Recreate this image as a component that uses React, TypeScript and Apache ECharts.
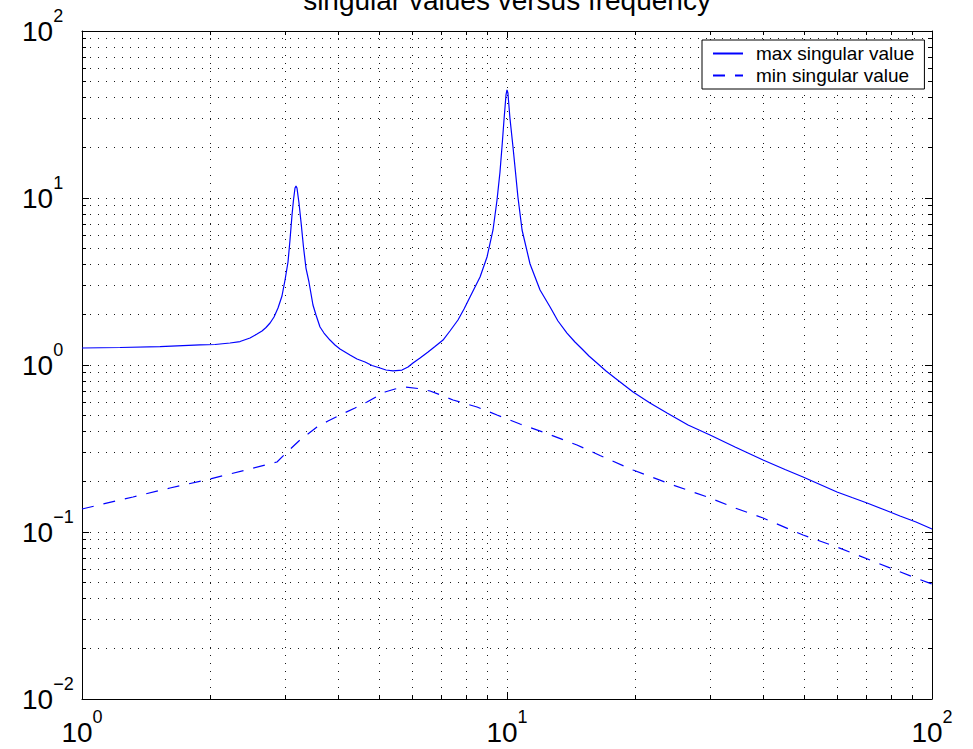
import React, { useEffect, useRef } from "react";
import * as echarts from "echarts";

const TITLE = "singular values versus frequency";
const SERIES_NAMES = ["max singular value", "min singular value"];

const maxFreq = [
  1.0, 1.229, 1.526, 1.895, 2.056, 2.23, 2.354, 2.485, 2.581, 2.652, 2.71, 2.77, 2.83, 2.892, 2.955,
  3.004, 3.053, 3.086, 3.12, 3.145, 3.171, 3.188, 3.205, 3.24, 3.276, 3.32, 3.365, 3.42, 3.495, 3.553,
  3.631, 3.71, 3.832, 3.938, 4.046, 4.271, 4.437, 4.634, 4.813, 5.026, 5.191, 5.393, 5.661, 5.849, 6.009,
  6.243, 6.52, 6.769, 7.071, 7.341, 7.668, 7.923, 8.184, 8.642, 8.974, 9.27, 9.474, 9.627, 9.732, 9.838,
  9.946, 10.0, 10.05, 10.16, 10.33, 10.47, 10.61, 10.85, 11.33, 11.96, 12.63, 13.18, 13.84, 14.45, 15.02,
  15.59, 16.28, 17.1, 17.95, 18.85, 19.8, 21.7, 23.8, 26.67, 30.04, 34.4, 40.04, 45.1, 49.72, 54.51,
  59.77, 64.83, 70.33, 77.51, 84.08, 91.7, 100,
];
const maxVal = [
  1.264, 1.273, 1.29, 1.318, 1.327, 1.354, 1.382, 1.451, 1.533, 1.598, 1.677, 1.784, 1.938, 2.194, 2.589,
  3.228, 4.139, 5.605, 7.911, 9.728, 11.48, 11.8, 11.48, 9.335, 7.183, 5.089, 3.809, 3.141, 2.287, 1.992,
  1.689, 1.554, 1.411, 1.318, 1.247, 1.148, 1.086, 1.042, 0.993, 0.959, 0.933, 0.921, 0.933, 0.973, 1.028,
  1.101, 1.196, 1.29, 1.411, 1.598, 1.86, 2.164, 2.554, 3.365, 4.433, 6.433, 9.728, 14.31, 20.2, 29.32,
  41.39, 44.34, 42.54, 30.13, 20.2, 14.31, 10.14, 6.433, 4.025, 2.813, 2.225, 1.834, 1.554, 1.373, 1.247,
  1.132, 1.028, 0.921, 0.836, 0.759, 0.689, 0.592, 0.516, 0.437, 0.381, 0.323, 0.27, 0.2367, 0.2135, 0.1925,
  0.1736, 0.1609, 0.1492, 0.1354, 0.1247, 0.1148, 0.1042,
];

const minFreq = [
  1.0, 1.318, 1.611, 2.001, 2.485, 2.876, 3.037, 3.258, 3.572, 3.792, 4.046, 4.389, 4.684, 5.163, 5.451,
  5.754, 6.175, 6.59, 7.032, 7.464, 7.965, 8.5, 9.473, 10.73, 12.15, 14.61, 16.55, 19.8, 24.18, 30.04,
  34.4, 40.04, 49.72, 59.77, 73.44, 90.22, 100,
];
const minVal = [
  0.1373, 0.1621, 0.1834, 0.2077, 0.2384, 0.2625, 0.3013, 0.3555, 0.4253, 0.4622, 0.5019, 0.5528, 0.6005,
  0.6892, 0.7183, 0.7385, 0.7233, 0.6988, 0.6569, 0.6173, 0.5881, 0.5605, 0.5019, 0.4433, 0.397, 0.3319,
  0.2871, 0.235, 0.1939, 0.1599, 0.1392, 0.1213, 0.0959, 0.0813, 0.0661, 0.0538, 0.0488,
];

const X_RANGE = [1, 100];
const Y_RANGE = [0.01, 100];

export default function App() {
  const ref = useRef<HTMLDivElement>(null);

  useEffect(() => {
    if (!ref.current) return;
    const chart = echarts.init(ref.current, null, { renderer: "svg" });
    const font = "'Liberation Sans', Arial, Helvetica, sans-serif";
    const fmt = (v: number) => {
      const e = Math.round(Math.log10(v));
      return `{b|10}{e|${e < 0 ? "\u2212" + -e : e}}`;
    };
    const rich = {
      b: { fontSize: 28, lineHeight: 48, fontFamily: font, color: "#000" },
      e: { fontSize: 18, lineHeight: 18, verticalAlign: "top", fontFamily: font, color: "#000" },
    };
    const dotted = { color: "#000", width: 1, type: [1, 7] as number[], opacity: 0.9 };
    const axisBase = (range: number[]) => ({
      type: "log" as const,
      logBase: 10,
      min: range[0],
      max: range[1],
      axisLine: { show: true, onZero: false, lineStyle: { color: "#000", width: 1 } },
      axisTick: { show: true, inside: true, length: 7, lineStyle: { color: "#000", width: 1 } },
      minorTick: { show: true, splitNumber: 9, length: 4, lineStyle: { color: "#000", width: 1 } },
    });

    chart.setOption({
      animation: false,
      backgroundColor: "#fff",
      grid: { left: 82, right: 41, top: 31, bottom: 50, containLabel: false, outerBoundsMode: "none" },
      graphic: [
        {
          type: "text",
          x: 507,
          y: 0,
          silent: true,
          style: {
            text: TITLE,
            fontSize: 28,
            fontFamily: font,
            fill: "#000",
            align: "center",
            verticalAlign: "middle",
          },
        },
      ],
      legend: {
        data: SERIES_NAMES,
        orient: "vertical",
        left: 702,
        top: 40,
        padding: [4, 10, 4, 10],
        itemGap: 3,
        itemWidth: 30,
        itemHeight: 18,
        backgroundColor: "#fff",
        borderColor: "#000",
        borderWidth: 1,
        borderRadius: 0,
        selectedMode: false,
        itemStyle: { opacity: 0, borderWidth: 0 },
        textStyle: { fontSize: 19, lineHeight: 18, fontFamily: font, color: "#000", padding: [0, 0, 0, 8] },
      },
      xAxis: [
        {
          ...axisBase(X_RANGE),
          position: "bottom",
          axisLabel: { formatter: fmt, rich, margin: 9, showMinLabel: true, showMaxLabel: true },
          splitLine: { show: true, lineStyle: dotted },
          minorSplitLine: { show: true, lineStyle: dotted },
        },
        {
          ...axisBase(X_RANGE),
          position: "top",
          axisLabel: { show: false },
          splitLine: { show: false },
          minorSplitLine: { show: false },
        },
      ],
      yAxis: [
        {
          ...axisBase(Y_RANGE),
          position: "left",
          axisLabel: {
            formatter: fmt,
            rich,
            margin: 60,
            align: "left",
            showMinLabel: true,
            showMaxLabel: true,
          },
          splitLine: { show: true, lineStyle: dotted },
          minorSplitLine: { show: true, lineStyle: dotted },
        },
        {
          ...axisBase(Y_RANGE),
          position: "right",
          axisLabel: { show: false },
          splitLine: { show: false },
          minorSplitLine: { show: false },
        },
      ],
      series: [
        {
          name: SERIES_NAMES[0],
          type: "line",
          data: maxFreq.map((f, i) => [f, maxVal[i]]),
          symbol: "none",
          silent: true,
          z: 3,
          itemStyle: { color: "#0000ff" },
          lineStyle: { color: "#0000ff", width: 1.2 },
        },
        {
          name: SERIES_NAMES[1],
          type: "line",
          data: minFreq.map((f, i) => [f, minVal[i]]),
          symbol: "none",
          silent: true,
          z: 3,
          itemStyle: { color: "#0000ff" },
          lineStyle: { color: "#0000ff", width: 1.2, type: [12, 10] },
        },
      ],
    });
    return () => chart.dispose();
  }, []);

  return <div ref={ref} style={{ position: "absolute", left: 0, top: 0, width: 973, height: 749 }} />;
}
